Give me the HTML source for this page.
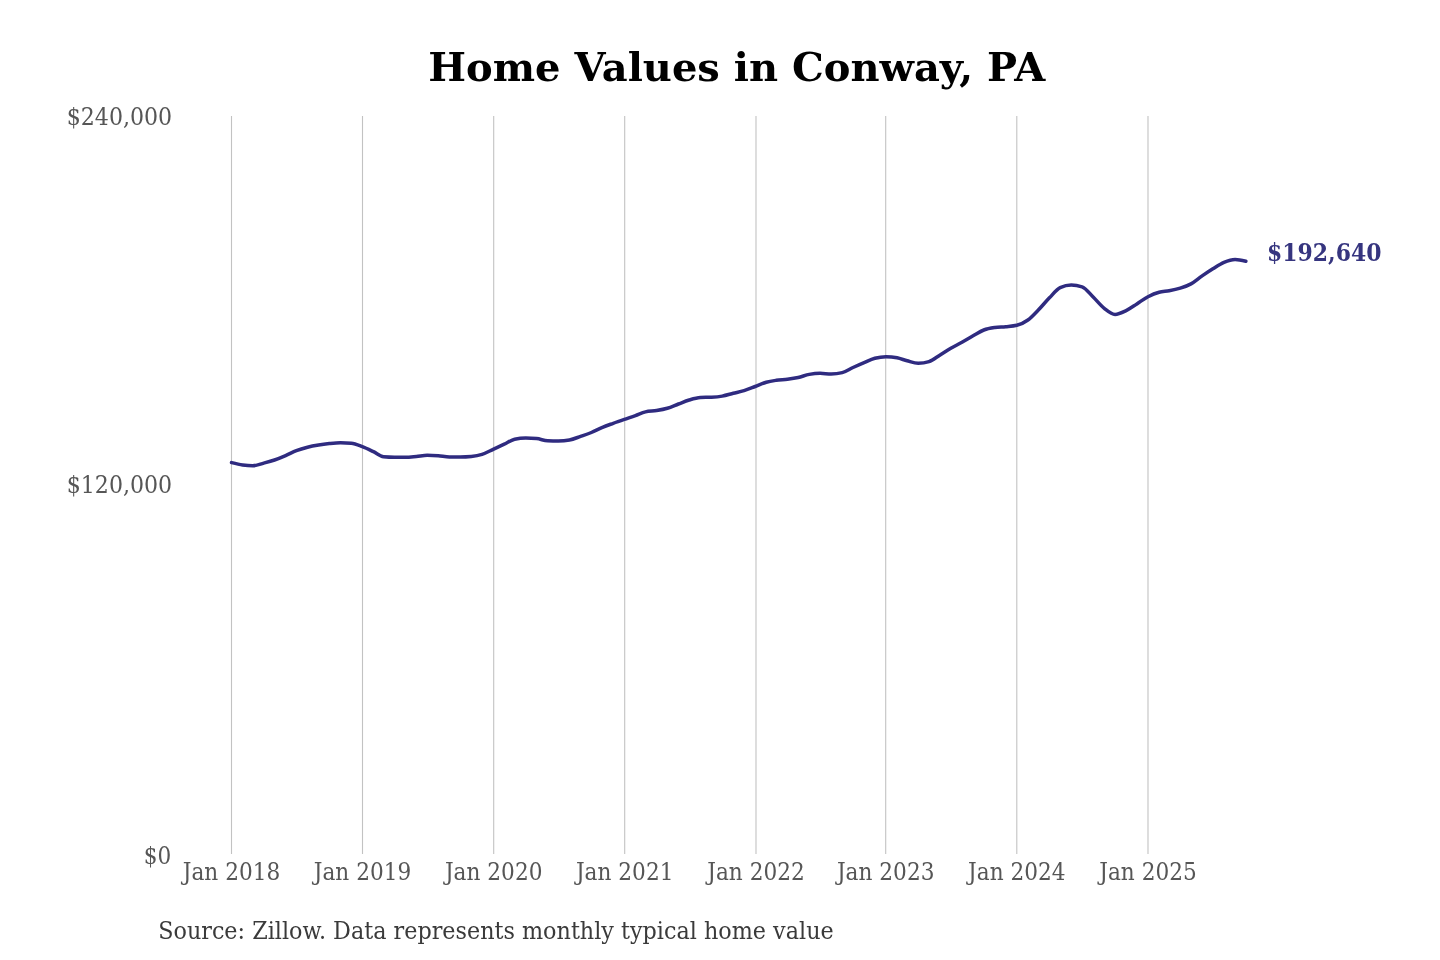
<!DOCTYPE html>
<html><head><meta charset="utf-8"><title>Home Values in Conway, PA</title>
<style>
html,body{margin:0;padding:0;background:#fff;}
svg{display:block;will-change:transform;}
</style></head><body>
<svg width="1440" height="960" viewBox="0 0 1440 960">
<rect width="1440" height="960" fill="#ffffff"/>
<text x="428.3" y="81.3" font-family="'DejaVu Serif', 'Liberation Serif', serif" font-weight="bold" font-size="38.9" fill="#000" textLength="617" lengthAdjust="spacingAndGlyphs">Home Values in Conway, PA</text>
<g stroke="#c2c2c2" stroke-width="1.1">
<line x1="231.5" y1="116" x2="231.5" y2="854" />
<line x1="362.5" y1="116" x2="362.5" y2="854" />
<line x1="493.7" y1="116" x2="493.7" y2="854" />
<line x1="624.7" y1="116" x2="624.7" y2="854" />
<line x1="756.0" y1="116" x2="756.0" y2="854" />
<line x1="885.7" y1="116" x2="885.7" y2="854" />
<line x1="1016.8" y1="116" x2="1016.8" y2="854" />
<line x1="1148.0" y1="116" x2="1148.0" y2="854" />
</g>
<g font-family="'DejaVu Serif', 'Liberation Serif', serif" font-size="23.3" fill="#565656">
<text x="172.2" y="125.3" text-anchor="end" textLength="105.5" lengthAdjust="spacingAndGlyphs">$240,000</text>
<text x="172.2" y="492.9" text-anchor="end" textLength="105.5" lengthAdjust="spacingAndGlyphs">$120,000</text>
<text x="171.2" y="863.6" text-anchor="end" textLength="27.5" lengthAdjust="spacingAndGlyphs">$0</text>
<text x="231.5" y="879.9" text-anchor="middle" textLength="97.5" lengthAdjust="spacingAndGlyphs">Jan 2018</text>
<text x="362.5" y="879.9" text-anchor="middle" textLength="97.5" lengthAdjust="spacingAndGlyphs">Jan 2019</text>
<text x="493.7" y="879.9" text-anchor="middle" textLength="97.5" lengthAdjust="spacingAndGlyphs">Jan 2020</text>
<text x="624.7" y="879.9" text-anchor="middle" textLength="97.5" lengthAdjust="spacingAndGlyphs">Jan 2021</text>
<text x="756.0" y="879.9" text-anchor="middle" textLength="97.5" lengthAdjust="spacingAndGlyphs">Jan 2022</text>
<text x="885.7" y="879.9" text-anchor="middle" textLength="97.5" lengthAdjust="spacingAndGlyphs">Jan 2023</text>
<text x="1016.8" y="879.9" text-anchor="middle" textLength="97.5" lengthAdjust="spacingAndGlyphs">Jan 2024</text>
<text x="1148.0" y="879.9" text-anchor="middle" textLength="97.5" lengthAdjust="spacingAndGlyphs">Jan 2025</text>
</g>
<path d="M231.50,462.60 C235.20,463.53 238.91,464.47 242.61,465.00 C245.96,465.48 249.30,465.80 252.65,465.80 C256.35,465.80 260.05,464.09 263.76,463.10 C267.34,462.15 270.93,461.22 274.51,460.00 C278.22,458.74 281.92,457.20 285.62,455.60 C289.21,454.05 292.79,451.99 296.38,450.60 C300.08,449.17 303.78,448.13 307.49,447.20 C311.19,446.27 314.89,445.61 318.60,445.00 C322.18,444.41 325.77,443.96 329.35,443.60 C333.05,443.22 336.76,442.80 340.46,442.80 C344.05,442.80 347.63,442.97 351.21,443.30 C354.92,443.64 358.62,445.30 362.33,446.70 C366.03,448.10 369.73,449.94 373.44,451.70 C376.78,453.29 380.13,456.40 383.47,456.70 C387.18,457.03 390.88,457.20 394.58,457.20 C398.17,457.20 401.75,457.20 405.34,457.20 C409.04,457.20 412.75,456.72 416.45,456.40 C420.03,456.09 423.62,455.30 427.20,455.30 C430.91,455.30 434.61,455.53 438.31,455.80 C442.02,456.07 445.72,456.90 449.42,456.90 C453.01,456.90 456.59,456.90 460.18,456.90 C463.88,456.90 467.58,456.73 471.29,456.40 C474.87,456.08 478.46,455.53 482.04,454.40 C485.74,453.23 489.45,451.10 493.15,449.40 C496.86,447.70 500.56,445.96 504.26,444.20 C507.73,442.56 511.19,439.89 514.66,439.20 C518.36,438.47 522.07,438.10 525.77,438.10 C529.35,438.10 532.94,438.27 536.52,438.60 C540.23,438.94 543.93,440.59 547.63,440.80 C551.22,441.00 554.80,441.10 558.39,441.10 C562.09,441.10 565.79,440.73 569.50,440.00 C573.20,439.27 576.90,437.67 580.61,436.40 C584.19,435.17 587.78,433.99 591.36,432.50 C595.07,430.96 598.77,428.85 602.47,427.30 C606.06,425.80 609.64,424.60 613.23,423.30 C616.93,421.96 620.63,420.68 624.34,419.40 C628.04,418.12 631.74,416.92 635.45,415.60 C638.79,414.41 642.14,412.68 645.48,411.90 C649.19,411.03 652.89,411.22 656.60,410.60 C660.18,410.00 663.76,409.37 667.35,408.30 C671.05,407.19 674.76,405.41 678.46,404.00 C682.04,402.64 685.63,401.07 689.21,400.00 C692.92,398.89 696.62,397.70 700.32,397.50 C704.03,397.30 707.73,397.40 711.43,397.20 C715.02,397.01 718.60,396.73 722.19,396.10 C725.89,395.45 729.60,394.23 733.30,393.30 C736.88,392.40 740.47,391.71 744.05,390.60 C747.76,389.46 751.46,387.90 755.16,386.50 C758.87,385.10 762.57,383.25 766.27,382.20 C769.62,381.25 772.96,380.79 776.31,380.30 C780.01,379.76 783.72,379.68 787.42,379.20 C791.01,378.74 794.59,378.28 798.17,377.50 C801.88,376.69 805.58,375.10 809.29,374.40 C812.87,373.72 816.45,373.30 820.04,373.30 C823.74,373.30 827.45,374.00 831.15,374.00 C834.85,374.00 838.56,373.53 842.26,372.60 C845.85,371.70 849.43,369.14 853.01,367.50 C856.72,365.80 860.42,364.16 864.13,362.60 C867.71,361.09 871.29,359.28 874.88,358.30 C878.58,357.29 882.29,356.70 885.99,356.70 C889.69,356.70 893.40,357.07 897.10,357.80 C900.45,358.46 903.79,359.92 907.14,360.80 C910.84,361.78 914.54,363.30 918.25,363.30 C921.83,363.30 925.42,362.73 929.00,361.60 C932.70,360.43 936.41,357.25 940.11,355.00 C943.70,352.82 947.28,350.40 950.86,348.30 C954.57,346.13 958.27,344.28 961.98,342.20 C965.68,340.12 969.38,337.86 973.09,335.80 C976.67,333.80 980.26,331.38 983.84,330.00 C987.54,328.57 991.25,328.05 994.95,327.50 C998.54,326.97 1002.12,327.06 1005.70,326.70 C1009.41,326.33 1013.11,326.23 1016.82,325.30 C1020.52,324.37 1024.22,322.69 1027.93,320.00 C1031.39,317.48 1034.86,313.56 1038.32,310.00 C1042.02,306.19 1045.73,301.59 1049.43,297.80 C1053.02,294.14 1056.60,289.21 1060.19,287.60 C1063.89,285.93 1067.59,285.10 1071.30,285.10 C1074.88,285.10 1078.46,285.67 1082.05,286.80 C1085.75,287.97 1089.46,293.42 1093.16,297.00 C1096.86,300.58 1100.57,305.38 1104.27,308.30 C1107.86,311.13 1111.44,314.40 1115.02,314.40 C1118.73,314.40 1122.43,312.40 1126.14,310.60 C1129.72,308.86 1133.30,306.18 1136.89,303.90 C1140.59,301.55 1144.30,298.65 1148.00,296.70 C1151.70,294.75 1155.41,293.18 1159.11,292.20 C1162.46,291.31 1165.80,291.42 1169.15,290.80 C1172.85,290.12 1176.55,289.38 1180.26,288.20 C1183.84,287.06 1187.43,285.90 1191.01,283.90 C1194.72,281.84 1198.42,278.45 1202.12,275.90 C1205.71,273.43 1209.29,271.03 1212.88,268.80 C1216.58,266.49 1220.28,263.87 1223.99,262.30 C1227.69,260.73 1231.39,259.40 1235.10,259.40 C1238.68,259.40 1242.27,260.30 1245.85,261.20" fill="none" stroke="#2f2b80" stroke-width="3.5" stroke-linecap="round" stroke-linejoin="round"/>
<text x="1267" y="260.7" font-family="'DejaVu Serif', 'Liberation Serif', serif" font-weight="bold" font-size="23.3" fill="#36357f" textLength="114.5" lengthAdjust="spacingAndGlyphs">$192,640</text>
<text x="158.2" y="938.8" font-family="'DejaVu Serif', 'Liberation Serif', serif" font-size="23.3" fill="#3a3a3a" textLength="675.5" lengthAdjust="spacingAndGlyphs">Source: Zillow. Data represents monthly typical home value</text>
</svg>
</body></html>
